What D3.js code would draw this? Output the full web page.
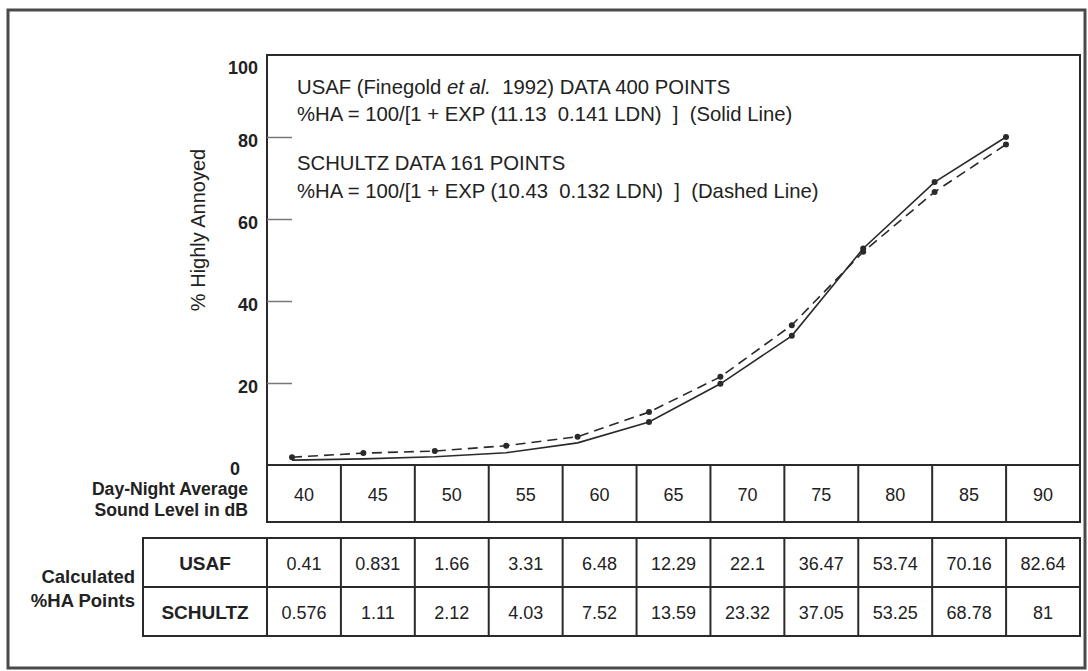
<!DOCTYPE html>
<html><head><meta charset="utf-8">
<script src="https://cdn.jsdelivr.net/npm/d3@7"></script>
<style>
body{margin:0;background:#fff}
svg{display:block}
text{font-family:"Liberation Sans",Arial,Helvetica,sans-serif;fill:#222}
.pre{white-space:pre}
</style>
</head><body>
<svg id="c" width="1088" height="671"></svg>
<script>
// ---- data ----
const ldn = [40, 45, 50, 55, 60, 65, 70, 75, 80, 85, 90];
// values as plotted in the figure
const usafPlotted    = [1.2, 1.5, 2.0, 3.0, 5.4, 10.5, 19.8, 31.5, 52.8, 69.0, 80.0];
const schultzPlotted = [1.9, 2.9, 3.4, 4.7, 6.9, 12.9, 21.5, 34.1, 52.0, 66.6, 78.2];
// values printed in the table
const usafTable    = [0.41, 0.831, 1.66, 3.31, 6.48, 12.29, 22.1, 36.47, 53.74, 70.16, 82.64];
const schultzTable = [0.576, 1.11, 2.12, 4.03, 7.52, 13.59, 23.32, 37.05, 53.25, 68.78, 81];
const yTicks = [0, 20, 40, 60, 80, 100];
const usafMarkedFrom = 65;
const rowNames = ["USAF", "SCHULTZ"];

const svg = d3.select("#c");
const ink = "#2a2a2a";

// scales
const x = d3.scaleLinear().domain([40, 90]).range([292, 1006]);
const y = d3.scaleLinear().domain([0, 100]).range([465, 55]);
const col = d3.scaleBand().domain(ldn).range([267, 1080]);

// outer frame
svg.append("rect").attr("x", 8).attr("y", 10).attr("width", 1077).attr("height", 658)
  .attr("fill", "none").attr("stroke", "#4a4a4a").attr("stroke-width", 3);

// plot box
svg.append("path")
  .attr("d", `M${col.range()[0]},${y(0)}V${y(100)}H${col.range()[1]}V${y(0)}`)
  .attr("fill", "none").attr("stroke", ink).attr("stroke-width", 2);

// y axis
const yAxis = svg.append("g").attr("transform", `translate(${col.range()[0]},0)`)
  .call(d3.axisLeft(y).tickValues(yTicks).tickSize(-25).tickPadding(9));
yAxis.select(".domain").remove();
yAxis.selectAll(".tick line").attr("stroke", "#777").attr("stroke-width", 1.5)
  .filter(d => d === 0 || d === 100).remove();
yAxis.selectAll(".tick text")
  .style("font-family", "'Liberation Sans',Arial,sans-serif")
  .style("font-size", "18px").style("font-weight", "bold").attr("fill", "#222")
  .attr("dy", d => d === 100 ? "1.0em" : (d === 0 ? "0.55em" : "0.55em"))
  .attr("x", d => d === 0 ? -27 : -9);

// y title
svg.append("text").attr("transform", "translate(205,230) rotate(-90)")
  .attr("text-anchor", "middle").style("font-size", "20px").text("% Highly Annoyed");

// legend text
const leg = svg.append("g").style("font-size", "20.3px");
const l1 = leg.append("text").attr("class", "pre").attr("x", 297).attr("y", 94);
l1.append("tspan").text("USAF (Finegold ");
l1.append("tspan").style("font-style", "italic").text("et al.");
l1.append("tspan").text("  1992) DATA 400 POINTS");
leg.append("text").attr("class", "pre").attr("x", 297).attr("y", 121).text("%HA = 100/[1 + EXP (11.13  0.141 LDN)  ]  (Solid Line)");
leg.append("text").attr("class", "pre").attr("x", 297).attr("y", 170).text("SCHULTZ DATA 161 POINTS");
leg.append("text").attr("class", "pre").attr("x", 297).attr("y", 198).text("%HA = 100/[1 + EXP (10.43  0.132 LDN)  ]  (Dashed Line)");

// curves
const line = d3.line().x((d, i) => x(ldn[i])).y(d => y(d));
svg.append("path").datum(usafPlotted).attr("d", line)
  .attr("fill", "none").attr("stroke", ink).attr("stroke-width", 1.6);
svg.append("path").datum(schultzPlotted).attr("d", line)
  .attr("fill", "none").attr("stroke", ink).attr("stroke-width", 1.6)
  .attr("stroke-dasharray", "10,6");

svg.append("g").selectAll("circle").data(schultzPlotted).join("circle")
  .attr("cx", (d, i) => x(ldn[i])).attr("cy", d => y(d)).attr("r", 3).attr("fill", ink);
svg.append("g").selectAll("circle")
  .data(usafPlotted.map((v, i) => ({v, k: ldn[i]})).filter(d => d.k >= usafMarkedFrom))
  .join("circle")
  .attr("cx", d => x(d.k)).attr("cy", d => y(d.v)).attr("r", 3).attr("fill", ink);

// table 1: LDN header
const t1 = {top: 465, bottom: 522};
const g1 = svg.append("g");
g1.append("rect").attr("x", col.range()[0]).attr("y", t1.top)
  .attr("width", col.range()[1] - col.range()[0]).attr("height", t1.bottom - t1.top)
  .attr("fill", "none").attr("stroke", ink).attr("stroke-width", 2);
g1.selectAll("line").data(ldn.slice(1)).join("line")
  .attr("x1", d => col(d)).attr("x2", d => col(d)).attr("y1", t1.top).attr("y2", t1.bottom)
  .attr("stroke", ink).attr("stroke-width", 2);
g1.selectAll("text").data(ldn).join("text")
  .attr("x", d => col(d) + col.bandwidth() / 2).attr("y", (t1.top + t1.bottom) / 2 + 7)
  .attr("text-anchor", "middle").style("font-size", "18px").attr("fill", "#333").text(d => d);

svg.append("text").attr("x", 248).attr("y", 495).attr("text-anchor", "end")
  .style("font-size", "17.6px").style("font-weight", "bold").text("Day-Night Average");
svg.append("text").attr("x", 248).attr("y", 516).attr("text-anchor", "end")
  .style("font-size", "17.6px").style("font-weight", "bold").text("Sound Level in dB");

// table 2: calculated points
const t2 = {left: 143, top: 538, mid: 587, bottom: 636};
const g2 = svg.append("g");
g2.append("rect").attr("x", t2.left).attr("y", t2.top)
  .attr("width", col.range()[1] - t2.left).attr("height", t2.bottom - t2.top)
  .attr("fill", "none").attr("stroke", ink).attr("stroke-width", 2);
g2.append("line").attr("x1", t2.left).attr("x2", col.range()[1]).attr("y1", t2.mid).attr("y2", t2.mid)
  .attr("stroke", ink).attr("stroke-width", 2);
g2.selectAll("line.v").data(ldn).join("line").attr("class", "v")
  .attr("x1", d => col(d)).attr("x2", d => col(d)).attr("y1", t2.top).attr("y2", t2.bottom)
  .attr("stroke", ink).attr("stroke-width", 2);
const rowsY = [(t2.top + t2.mid) / 2, (t2.mid + t2.bottom) / 2];
g2.selectAll("text.rn").data(rowNames).join("text").attr("class", "rn")
  .attr("x", (t2.left + col.range()[0]) / 2).attr("y", (d, i) => rowsY[i] + 7)
  .attr("text-anchor", "middle").style("font-size", "19px").style("font-weight", "bold").text(d => d);
[usafTable, schultzTable].forEach((arr, r) => {
  g2.append("g").selectAll("text").data(arr).join("text")
    .attr("x", (d, i) => col(ldn[i]) + col.bandwidth() / 2).attr("y", rowsY[r] + 7)
    .attr("text-anchor", "middle").style("font-size", "18px").attr("fill", "#333").text(d => d);
});
svg.append("text").attr("x", 135).attr("y", 583).attr("text-anchor", "end")
  .style("font-size", "18.5px").style("font-weight", "bold").text("Calculated");
svg.append("text").attr("x", 135).attr("y", 607).attr("text-anchor", "end")
  .style("font-size", "18.5px").style("font-weight", "bold").text("%HA Points");
</script>
</body></html>
